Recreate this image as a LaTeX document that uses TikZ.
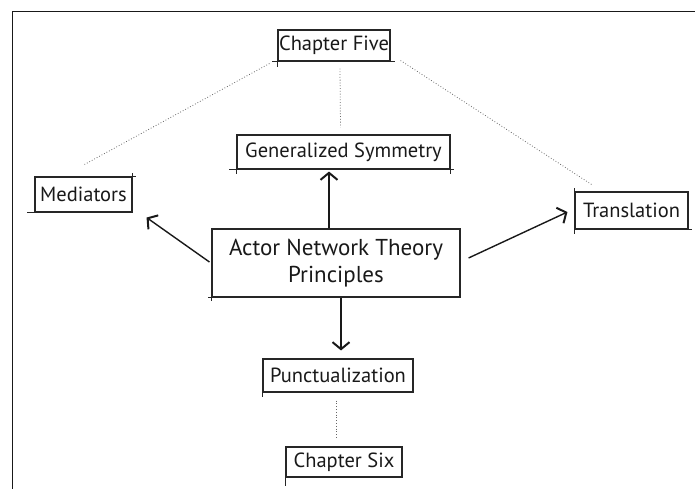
\documentclass[tikz,border=0pt]{standalone}
\usepackage{fontspec}
\setmainfont{PT Sans}
\usetikzlibrary{arrows.meta}
\begin{document}
\begin{tikzpicture}[x=1pt,y=-1pt,
  label box/.style={draw=black!85, line width=1.1pt, inner sep=0pt,
    font=\fontsize{20.5}{22}\selectfont, text=black!90},
  main box/.style={label box, font=\fontsize{23}{27}\selectfont, align=center},
  overshoot/.style={draw=black!85, line width=1.1pt},
  link/.style={draw=black!90, line width=1.4pt,
    -{Straight Barb[length=7pt,width=17pt,line width=2pt]}},
  faint/.style={draw=black!60, line width=0.8pt, dotted}]
  \useasboundingbox (0,0) rectangle (695,489);

  % frame on the left and top edges
  \draw[line width=1.8pt, black!90] (12.5,489) -- (12.5,11.5) -- (695,11.5);

  % boxes
  \node[label box, minimum width=112pt, minimum height=31pt] (five) at (334,45.5) {Chapter Five};
  \node[label box, minimum width=213pt, minimum height=34pt] (gen) at (343.5,152) {Generalized Symmetry};
  \node[label box, minimum width=97pt, minimum height=35pt] (med) at (83.5,194.5) {Mediators};
  \node[label box, minimum width=113pt, minimum height=37pt] (trans) at (631.5,210.5) {Translation};
  \node[main box, minimum width=248pt, minimum height=68pt] (ant) at (336,263) {Actor Network Theory\\Principles};
  \node[label box, minimum width=150pt, minimum height=33pt] (punc) at (338,375.5) {Punctualization};
  \node[label box, minimum width=116pt, minimum height=30pt] (six) at (344,462) {Chapter Six};

  % sketchy overshooting box edges
  \draw[overshoot] ([shift={(-5,0)}]five.south west) -- ([shift={(4,0)}]five.south east);
  \draw[overshoot] (five.south west) -- ([shift={(0,5)}]five.south west);
  \draw[overshoot] ([shift={(-7,0)}]gen.south west) -- ([shift={(3,0)}]gen.south east);
  \draw[overshoot] (gen.south west) -- ([shift={(0,4)}]gen.south west);
  \draw[overshoot] (gen.south east) -- ([shift={(0,4)}]gen.south east);
  \draw[overshoot] (med.north east) -- ([shift={(3,0)}]med.north east);
  \draw[overshoot] (med.north east) -- ([shift={(0,-3)}]med.north east);
  \draw[overshoot] (med.south west) -- ([shift={(-7,0)}]med.south west);
  \draw[overshoot] (trans.north west) -- ([shift={(0,-3)}]trans.north west);
  \draw[overshoot] (trans.south west) -- ([shift={(0,4)}]trans.south west);
  \draw[overshoot] (trans.south east) -- ([shift={(3,0)}]trans.south east);
  \draw[overshoot] (ant.south west) -- ([shift={(0,3)}]ant.south west);
  \draw[overshoot] (ant.south west) -- ([shift={(-3,0)}]ant.south west);
  \draw[overshoot] (punc.south west) -- ([shift={(0,4)}]punc.south west);
  \draw[overshoot] (six.south west) -- ([shift={(0,8)}]six.south west);

  % arrows from the central box
  \draw[link] ([shift={(-7,0)}]ant.north) -- ([shift={(-14.5,2)}]gen.south);
  \draw[link] ([shift={(-2,-1)}]ant.west) -- ([shift={(14,5)}]med.south east);
  \draw[link] ([shift={(8,-5)}]ant.east) -- ([shift={(-7,1.5)}]trans.west);
  \draw[link] ([shift={(5,0)}]ant.south) -- ([shift={(3,-8)}]punc.north);

  % dotted relations
  \draw[faint] ([shift={(-8,2)}]five.south west) -- ([shift={(1,-12)}]med.north);
  \draw[faint] ([shift={(6,7)}]five.south) -- ([shift={(-3,-7)}]gen.north);
  \draw[faint] ([shift={(10,-1)}]five.south east) -- ([shift={(-40,-7)}]trans.north);
  \draw[faint] ([shift={(-2,8)}]punc.south) -- ([shift={(-8,-7)}]six.north);
\end{tikzpicture}
\end{document}
